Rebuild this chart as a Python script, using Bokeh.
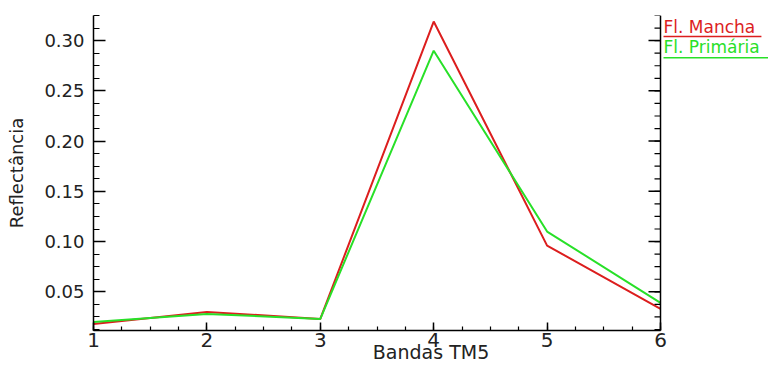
import math
from bokeh.plotting import figure
from bokeh.models import Range1d, FixedTicker, Label, CustomJSTickFormatter
from bokeh.embed import file_html
from bokeh.resources import INLINE

bands = [1, 2, 3, 4, 5, 6]
mancha = [0.018, 0.030, 0.023, 0.319, 0.096, 0.033]
primaria = [0.020, 0.028, 0.023, 0.290, 0.110, 0.039]
y_major = [0.05, 0.10, 0.15, 0.20, 0.25, 0.30]
y_minor = [0.0125 * i for i in range(1, 27)]
x_minor = [1 + 0.25 * i for i in range(0, 21)]
series_names = ["Fl. Mancha", "Fl. Primária"]
RED = "#dc1e1e"
GREEN = "#28e028"
FONT = "DejaVu Sans"
TXT = "#222222"

Y0, Y1 = 0.0115, 0.325
X0, X1 = 1, 6
# frame: x 93..768 px, data 1..6 spans 93..660 px
XEND = X1 + (768 - 660) / ((660 - 93) / (X1 - X0))

p = figure(width=768, height=365, output_backend="svg", toolbar_location=None,
           x_range=Range1d(X0, XEND), y_range=Range1d(Y0, Y1),
           min_border_left=93, min_border_right=0, min_border_top=15, min_border_bottom=35)
p.outline_line_color = None
p.grid.visible = False
p.background_fill_color = "white"
p.border_fill_color = "white"

p.line(bands, mancha, line_color=RED, line_width=2)
p.line(bands, primaria, line_color=GREEN, line_width=2)

def style(ax, ticks, minor):
    ax.ticker = FixedTicker(ticks=ticks, minor_ticks=minor)
    ax.axis_line_color = "black"
    ax.axis_line_width = 1.5
    ax.major_tick_line_color = "black"
    ax.minor_tick_line_color = "black"
    ax.major_tick_line_width = 1.5
    ax.minor_tick_line_width = 1.2
    ax.major_tick_out = 0
    ax.minor_tick_out = 0
    ax.major_label_text_font = FONT
    ax.major_label_text_color = TXT

yax = p.yaxis[0]
style(yax, y_major, y_minor)
yax.major_tick_in = 12
yax.minor_tick_in = 6
yax.major_label_standoff = 9
yax.major_label_text_font_size = "18px"
yax.formatter = CustomJSTickFormatter(code="return tick.toFixed(2);")
yax.axis_label = "Reflectância"
yax.axis_label_text_font = FONT
yax.axis_label_text_font_size = "18px"
yax.axis_label_text_font_style = "normal"
yax.axis_label_text_color = TXT
yax.axis_label_standoff = 14

xax = p.xaxis[0]
style(xax, bands, x_minor)
xax.bounds = (X0, X1)
xax.major_tick_in = 8
xax.minor_tick_in = 4
xax.major_label_standoff = 2
xax.major_label_text_font_size = "20px"
xax.axis_label = "Bandas TM5"
xax.axis_label_text_font = FONT
xax.axis_label_text_font_size = "19px"
xax.axis_label_text_font_style = "normal"
xax.axis_label_text_color = TXT
xax.axis_label_standoff = -9

# right-hand axis (mirror, no labels) drawn at x = 6
p.line([X1, X1], [Y0, Y1], line_color="black", line_width=1.5)
p.ray(x=[X1] * len(y_minor), y=y_minor, length=6, length_units="screen",
      angle=math.pi, line_color="black", line_width=1.2)
p.ray(x=[X1] * len(y_major), y=y_major, length=12, length_units="screen",
      angle=math.pi, line_color="black", line_width=1.5)

# legend: coloured, underlined names to the right of the plot
colors = [RED, GREEN]
base_y = [0.314, 0.294]
line_y = [0.304, 0.283]
line_end = [6.89, XEND]
lx = X1 + 3 / ((660 - 93) / (X1 - X0))
for name, c, by, ly, le in zip(series_names, colors, base_y, line_y, line_end):
    p.add_layout(Label(x=lx, y=by, text=name, text_align="left",
                       text_baseline="alphabetic", text_font=FONT, text_font_size="17px",
                       text_color=c))
    p.segment(x0=[lx], y0=[ly], x1=[le], y1=[ly], line_color=c, line_width=1.5)

open("out.html", "w").write(file_html(p, INLINE))
